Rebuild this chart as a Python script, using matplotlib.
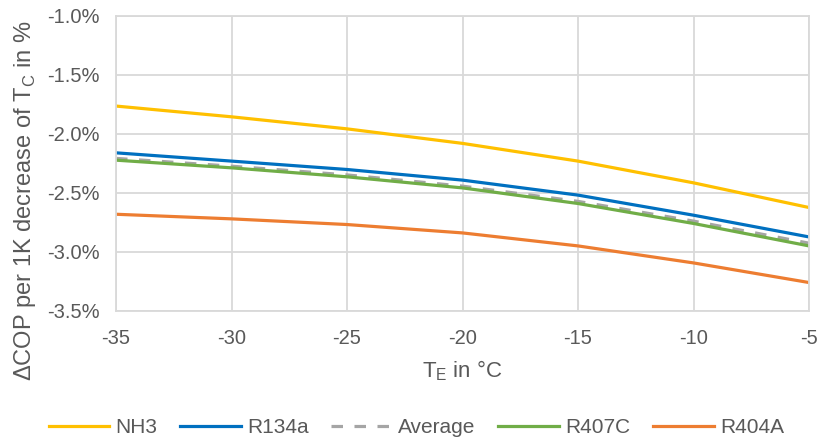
import matplotlib.pyplot as plt
from matplotlib.ticker import FuncFormatter, MultipleLocator

# evaporation temperature (°C)
t_evap = [-35, -30, -25, -20, -15, -10, -5]

# change of COP per 1 K lower condensing temperature, in %
nh3 = [-1.765, -1.856, -1.958, -2.081, -2.231, -2.415, -2.624]
r134a = [-2.161, -2.231, -2.302, -2.392, -2.519, -2.689, -2.873]
average = [-2.208, -2.274, -2.348, -2.443, -2.572, -2.739, -2.926]
r407c = [-2.223, -2.288, -2.364, -2.458, -2.590, -2.759, -2.949]
r404a = [-2.681, -2.720, -2.768, -2.839, -2.949, -3.093, -3.259]

TEXT = '#595959'
GRID = '#D9D9D9'

plt.rcParams['font.family'] = ['Liberation Sans', 'DejaVu Sans']
plt.rcParams['mathtext.fontset'] = 'custom'
plt.rcParams['mathtext.rm'] = 'Liberation Sans'

fig = plt.figure(figsize=(8.21, 4.41), dpi=100)
ax = fig.add_axes([0.1413, 0.2948, 0.8441, 0.6696])

lw = 2.3
ax.plot(t_evap, nh3, color='#FFC000', lw=lw, label='NH3')
ax.plot(t_evap, r134a, color='#0070C0', lw=lw, label='R134a')
ax.plot(t_evap, average, color='#A5A5A5', lw=lw, ls=(0, (3.6, 3.6)), label='Average')
ax.plot(t_evap, r407c, color='#70AD47', lw=lw, label='R407C')
ax.plot(t_evap, r404a, color='#ED7D31', lw=lw, label='R404A')

ax.set_xlim(-35, -5)
ax.set_ylim(-3.5, -1.0)
ax.xaxis.set_major_locator(MultipleLocator(5))
ax.yaxis.set_major_locator(MultipleLocator(0.5))
ax.xaxis.set_major_formatter(FuncFormatter(lambda v, p: f'{v:.0f}'))
ax.yaxis.set_major_formatter(FuncFormatter(lambda v, p: f'{v:.1f}%'))

ax.grid(True, color=GRID, lw=1.3)
ax.set_axisbelow(True)
for s in ax.spines.values():
    s.set_color(GRID)
    s.set_linewidth(1.3)
ax.tick_params(axis='both', length=0, labelsize=14.5, labelcolor=TEXT)
ax.tick_params(axis='y', pad=12)
ax.tick_params(axis='x', pad=13)

ax.set_xlabel(r'T$_\mathregular{E}$ in °C', fontsize=16, color=TEXT, labelpad=7.5)
ax.set_ylabel(r'ΔCOP per 1K decrease of T$_\mathregular{C}$ in %', fontsize=17, color=TEXT)
ax.yaxis.set_label_coords(-0.112, 0.375)

fig.legend(loc='center', bbox_to_anchor=(0.507, 0.03), ncol=5, frameon=False,
           fontsize=15, labelcolor=TEXT, handlelength=2.9, handletextpad=0.3,
           columnspacing=1.1)

fig.savefig('out.png', dpi=100)
